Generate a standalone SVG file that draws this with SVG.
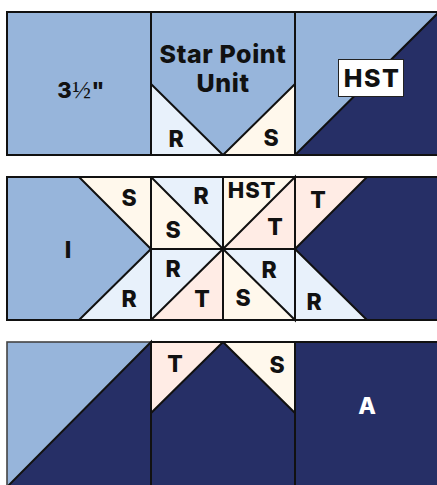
<svg xmlns="http://www.w3.org/2000/svg" width="437" height="485" viewBox="0 0 437 485">
<style>
.l{fill:#97b5db}.d{fill:#262f66}.r{fill:#e8f1fb}.s{fill:#fff8ec}.t{fill:#ffece5}
.o{stroke:#111;stroke-width:2;stroke-linejoin:miter}
text{font-family:Inter,"Liberation Sans",Arial,sans-serif;font-weight:800;fill:#111;text-anchor:middle}
.b{font-size:23px}.big{font-size:25px;letter-spacing:.6px}
</style>
<rect width="437" height="485" fill="#fff"/>
<g id="row1">
<g id="block-a"><rect class="l o" x="7" y="12" width="144" height="143"/>
<text x="81" y="98" font-size="22" letter-spacing=".5">3<tspan font-family="'Liberation Serif',serif" font-weight="400" font-size="25">½</tspan>"</text></g>
<g id="star-point"><rect class="l o" x="151" y="12" width="144" height="143"/>
<polygon class="r o" points="151,84 223,155 151,155"/>
<polygon class="s o" points="295,84 223,155 295,155"/>
<text class="big" x="223" y="63">Star Point</text><text class="big" x="223" y="92">Unit</text>
<text class="b" x="176" y="147">R</text><text class="b" x="271" y="146">S</text></g>
<g id="hst-1"><rect class="l o" x="295" y="12" width="144" height="143"/>
<polygon class="d o" points="439,12 439,155 295,155"/>
<g id="hst-label"><rect x="338.500" y="59.500" width="65" height="37" fill="#fff" stroke="#222" stroke-width="1"/>
<text class="big" x="372" y="87" letter-spacing="1.500" style="letter-spacing:1.500px">HST</text></g></g>
</g>
<g id="row2">
<g id="block-i"><rect class="l o" x="7" y="177" width="144" height="143"/>
<polygon class="s o" points="79,177 151,177 151,249"/>
<polygon class="r o" points="79,320 151,320 151,249"/>
<text class="b" x="68" y="258">I</text><text class="b" x="129" y="206">S</text><text class="b" x="129" y="307">R</text></g>
<g id="center"><rect class="s o" x="151" y="177" width="72" height="72"/>
<polygon class="r o" points="151,177 223,177 223,249"/>
<text class="b" x="201" y="204">R</text><text class="b" x="173" y="238">S</text></g>
<g id="center-2"><rect class="s o" x="223" y="177" width="72" height="72"/>
<polygon class="t o" points="295,177 295,249 223,249"/>
<text x="252" y="198" font-size="22" letter-spacing=".8">HST</text><text class="b" x="275" y="235">T</text></g>
<g id="center-3"><rect class="r o" x="151" y="249" width="72" height="71"/>
<polygon class="t o" points="223,249 223,320 151,320"/>
<text class="b" x="173" y="277">R</text><text class="b" x="202" y="307">T</text></g>
<g id="center-4"><rect class="s o" x="223" y="249" width="72" height="71"/>
<polygon class="r o" points="223,249 295,249 295,320"/>
<text class="b" x="269" y="278">R</text><text class="b" x="243" y="306">S</text></g>
<g id="block-dark"><rect class="d o" x="295" y="177" width="144" height="143"/>
<polygon class="t o" points="295,177 367,177 295,249"/>
<polygon class="r o" points="295,249 367,320 295,320"/>
<text class="b" x="318" y="208">T</text><text class="b" x="314" y="310">R</text></g>
</g>
<g id="row3">
<g id="hst-2"><rect class="l" x="7" y="342" width="144" height="145" stroke="#444" stroke-width="1.600"/>
<polygon class="d o" points="151,342 151,487 7,487"/></g>
<g id="flying-geese"><rect class="d o" x="151" y="342" width="144" height="145"/>
<polygon class="t o" points="151,342 223,342 151,413"/>
<polygon class="s o" points="295,342 223,342 295,413"/>
<text class="b" x="175" y="372">T</text><text class="b" x="277" y="373">S</text></g>
<g id="block-a2"><rect class="d o" x="295" y="342" width="144" height="145"/>
<text class="b" x="367" y="414" style="fill:#fff">A</text></g>
</g>
</svg>
